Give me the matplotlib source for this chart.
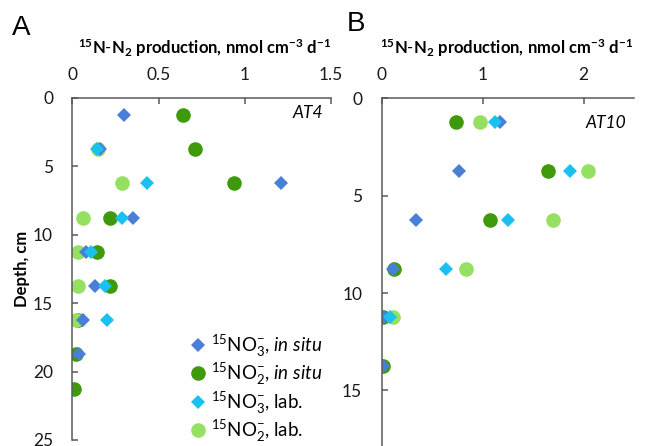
import matplotlib
matplotlib.use("Agg")
import matplotlib.pyplot as plt

plt.rcParams['font.family'] = ['Lato', 'DejaVu Sans']
plt.rcParams['mathtext.fontset'] = 'custom'
plt.rcParams['mathtext.rm'] = 'Lato'
plt.rcParams['mathtext.it'] = 'Lato:italic'
plt.rcParams['mathtext.bf'] = 'Lato:bold'
plt.rcParams['mathtext.default'] = 'regular'

# depth, cm
depth_a = [1.25, 3.75, 6.25, 8.75, 11.25, 13.75, 16.25, 18.75, 21.25]
depth_b = [1.25, 3.75, 6.25, 8.75, 11.25, 13.75]

# AT4 (panel A), nmol cm-3 d-1
a_no3_insitu = [0.30, 0.16, 1.21, 0.35, 0.08, 0.13, 0.06, 0.04, None]
a_no2_insitu = [0.64, 0.71, 0.94, 0.22, 0.14, 0.22, 0.03, 0.02, 0.01]
a_no3_lab = [None, 0.14, 0.43, 0.29, 0.11, 0.19, 0.20, None, None]
a_no2_lab = [None, 0.15, 0.29, 0.06, 0.03, 0.03, 0.02, None, None]

# AT10 (panel B)
b_no3_insitu = [1.17, 0.77, 0.34, 0.11, 0.02, 0.01]
b_no2_insitu = [0.74, 1.65, 1.07, 0.12, 0.01, 0.01]
b_no3_lab = [1.12, 1.87, 1.25, 0.64, 0.08, None]
b_no2_lab = [0.97, 2.04, 1.70, 0.84, 0.11, None]

labels = ['$^{15}$NO$_3^{-}$, $\\mathit{in\\ situ}$',
          '$^{15}$NO$_2^{-}$, $\\mathit{in\\ situ}$',
          '$^{15}$NO$_3^{-}$, lab.',
          '$^{15}$NO$_2^{-}$, lab.']
colors = ['#4a7fd8', '#3e9a0a', '#1ac0f0', '#95e060']
markers = ['D', 'o', 'D', 'o']
sizes = [7.5, 10.5, 7.5, 10.5]

title = ('$\\mathbf{^{15}N\\text{-}N_2\\ production{,}\\ nmol\\ '
         'cm^{-3}\\ d^{-1}}$')

fig = plt.figure(figsize=(6.49, 4.46), dpi=100)
ax1 = fig.add_axes([0.1117, 0.0135, 0.398, 0.7668])
ax2 = fig.add_axes([0.588, 0.0, 0.389, 0.780])


def pts(xs, ys):
    pairs = [(x, y) for x, y in zip(xs, ys) if x is not None]
    return [p[0] for p in pairs], [p[1] for p in pairs]


series_a = [a_no3_insitu, a_no2_insitu, a_no3_lab, a_no2_lab]
series_b = [b_no3_insitu, b_no2_insitu, b_no3_lab, b_no2_lab]
for i in [1, 3, 0, 2]:
    x, y = pts(series_a[i], depth_a)
    ax1.plot(x, y, linestyle='none', marker=markers[i], color=colors[i],
             markersize=sizes[i], markeredgewidth=0, label=labels[i])
    x, y = pts(series_b[i], depth_b)
    ax2.plot(x, y, linestyle='none', marker=markers[i], color=colors[i],
             markersize=sizes[i], markeredgewidth=0)

for ax, xmax, ymax, xt, yt in [(ax1, 1.5, 25, [0, 0.5, 1, 1.5], [0, 5, 10, 15, 20, 25]),
                               (ax2, 2.5, 17.85, [0, 1, 2], [0, 5, 10, 15])]:
    ax.set_xlim(0, xmax)
    ax.set_ylim(ymax, 0)
    ax.xaxis.tick_top()
    ax.set_xticks(xt)
    ax.set_xticklabels([('%g' % v) for v in xt])
    ax.set_yticks(yt)
    for s in ['right', 'bottom']:
        ax.spines[s].set_visible(False)
    for s in ['left', 'top']:
        ax.spines[s].set_color('#595959')
        ax.spines[s].set_linewidth(1.1)
    ax.tick_params(direction='in', length=4, width=1.1, color='#595959',
                   labelsize=12.5, labelcolor='#1a1a1a')
    ax.tick_params(axis='x', pad=11)
    ax.tick_params(axis='y', pad=14)

ax1.set_ylabel('Depth, cm', fontsize=12, fontweight='bold', labelpad=2)
ax1.text(0.97, 0.955, 'AT4', transform=ax1.transAxes, ha='right', va='center',
         fontsize=12.5, style='italic')
ax2.text(0.97, 0.928, 'AT10', transform=ax2.transAxes, ha='right', va='center',
         fontsize=12.5, style='italic')

fig.text(205 / 649, 1 - 48 / 446, title, ha='center', va='center',
         fontsize=12)
fig.text(507 / 649, 1 - 48 / 446, title, ha='center', va='center',
         fontsize=12)
fig.text(12 / 649, 1 - 28 / 446, 'A', fontsize=20, family='Liberation Sans',
         va='center')
fig.text(347 / 649, 1 - 24 / 446, 'B', fontsize=20, family='Liberation Sans',
         va='center')

handles, labs = ax1.get_legend_handles_labels()
idx = [labs.index(l) for l in labels]
ax1.legend([handles[k] for k in idx], [labs[k] for k in idx],
           loc='lower right', bbox_to_anchor=(1.02, -0.05), frameon=False,
           fontsize=13.5, handletextpad=0.2, labelspacing=0.12,
           handlelength=1.0, borderpad=0.2)

fig.savefig('out.png', dpi=100)
